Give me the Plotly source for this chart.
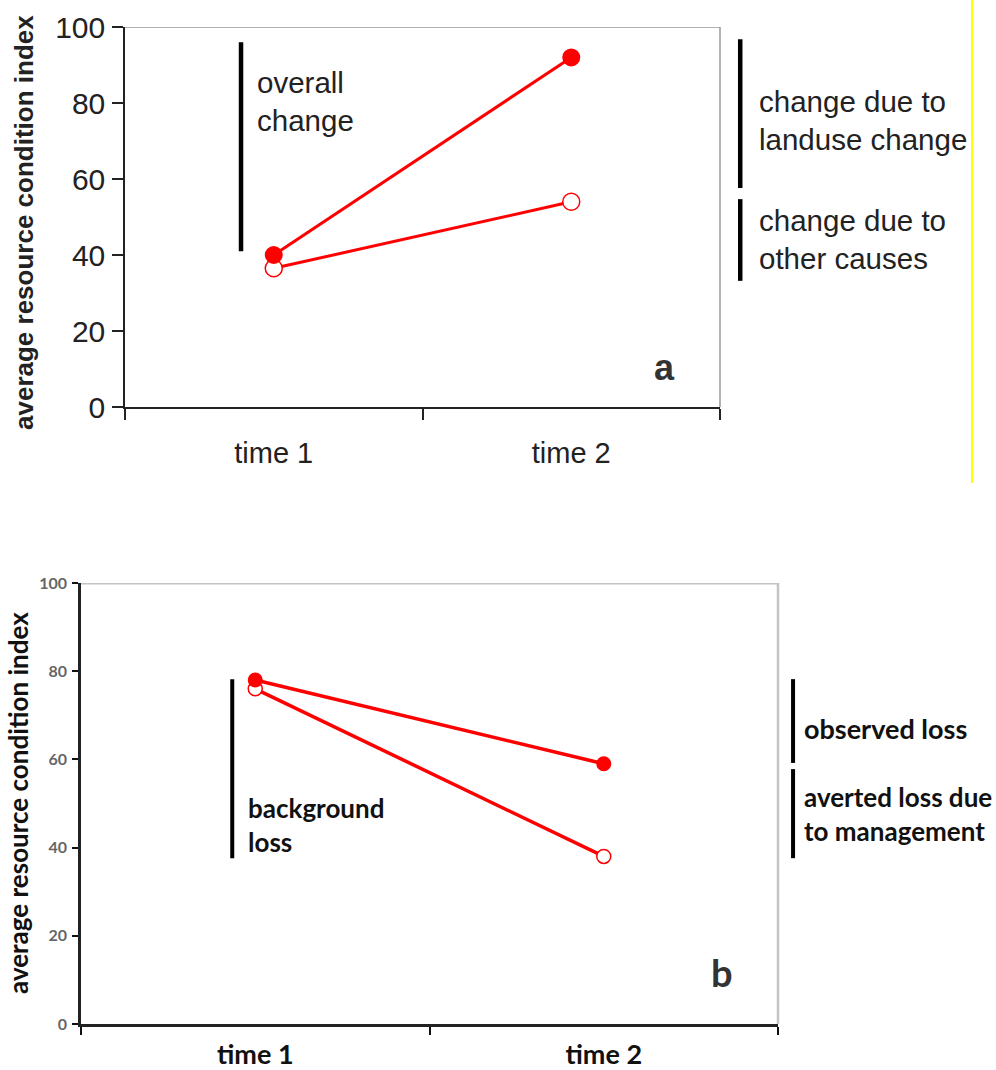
import plotly.graph_objects as go

# ---- data ----
categories = ["time 1", "time 2"]
a_filled = [40, 92]
a_open = [36.5, 54]
b_filled = [78, 59]
b_open = [76, 38]
y_ticks = [0, 20, 40, 60, 80, 100]
y_title = "average resource condition index"

RED = "#ff0000"
FA = "Liberation Sans, Arial, sans-serif"
FB = "Lato, sans-serif"

fig = go.Figure()

# Panel a
fig.add_trace(go.Scatter(x=categories, y=a_open, mode="lines+markers", xaxis="x", yaxis="y",
                         line=dict(color=RED, width=3),
                         marker=dict(symbol="circle", size=17, color="white", line=dict(color=RED, width=1.5)),
                         showlegend=False))
fig.add_trace(go.Scatter(x=categories, y=a_filled, mode="lines+markers", xaxis="x", yaxis="y",
                         line=dict(color=RED, width=3),
                         marker=dict(symbol="circle", size=18, color=RED),
                         showlegend=False))
# Panel b
fig.add_trace(go.Scatter(x=categories, y=b_open, mode="lines+markers", xaxis="x2", yaxis="y2",
                         line=dict(color=RED, width=3.5),
                         marker=dict(symbol="circle", size=14, color="white", line=dict(color=RED, width=1.5)),
                         showlegend=False))
fig.add_trace(go.Scatter(x=categories, y=b_filled, mode="lines+markers", xaxis="x2", yaxis="y2",
                         line=dict(color=RED, width=3.5),
                         marker=dict(symbol="circle", size=15, color=RED),
                         showlegend=False))

xa_dom = [125/996, 720/996]
ya_dom = [1-407/1070, 1-27/1070]
xb_dom = [81/996, 778/996]
yb_dom = [1-1024/1070, 1-583/1070]

fig.update_layout(
    width=996, height=1070,
    margin=dict(l=0, r=0, t=0, b=0, autoexpand=False),
    paper_bgcolor="white", plot_bgcolor="white",
    xaxis=dict(domain=xa_dom, anchor="y", type="category", range=[-0.5, 1.5], automargin=False,
               tickson="boundaries", ticks="outside", ticklen=11, tickwidth=1.5, tickcolor="#222",
               showline=True, linecolor="#222", linewidth=1.5, showgrid=False, zeroline=False,
               tickfont=dict(family=FA, size=29, color="#222"), ticklabelstandoff=19),
    yaxis=dict(domain=ya_dom, anchor="x", range=[0, 100], tickvals=y_ticks, automargin=False,
               ticks="outside", ticklen=11, tickwidth=1.5, tickcolor="#222",
               showline=True, linecolor="#222", linewidth=1.5, showgrid=False, zeroline=False,
               tickfont=dict(family=FA, size=30, color="#222"), ticklabelstandoff=1),
    xaxis2=dict(domain=xb_dom, anchor="y2", type="category", range=[-0.5, 1.5], automargin=False,
                tickson="boundaries", ticks="outside", ticklen=8, tickwidth=2, tickcolor="#111",
                showline=True, linecolor="#222", linewidth=2.5, showgrid=False, zeroline=False,
                tickfont=dict(family=FB, size=27, color="#111", weight="bold"), ticklabelstandoff=5),
    yaxis2=dict(domain=yb_dom, anchor="x2", range=[0, 100], tickvals=y_ticks, automargin=False,
                ticks="outside", ticklen=6, tickwidth=2, tickcolor="#111",
                showline=True, linecolor="#222", linewidth=2.5, showgrid=False, zeroline=False,
                tickfont=dict(family=FB, size=16, color="#666", weight="bold"), ticklabelstandoff=2),
)

shapes = []
# frame (top/right) borders
shapes.append(dict(type="line", xref="x domain", yref="y", x0=0, x1=1, y0=100, y1=100,
                   line=dict(color="#999", width=1.5), layer="below"))
shapes.append(dict(type="line", xref="x domain", yref="y", x0=1, x1=1, y0=0, y1=100,
                   line=dict(color="#999", width=1.5), layer="below"))
shapes.append(dict(type="line", xref="x2 domain", yref="y2", x0=0, x1=1, y0=100, y1=100,
                   line=dict(color="#c4c4c4", width=3), layer="below"))
shapes.append(dict(type="line", xref="x2 domain", yref="y2", x0=1, x1=1, y0=0, y1=100,
                   line=dict(color="#c4c4c4", width=2.5), layer="below"))

# black brackets
a_bars = [(0.195, 41, 96), (1.034, 57.6, 96.8), (1.034, 33.2, 54.7)]
for x, y0, y1 in a_bars:
    shapes.append(dict(type="line", xref="x domain", yref="y", x0=x, x1=x, y0=y0, y1=y1,
                       line=dict(color="black", width=4.5)))
b_bars = [(0.217, 37.6, 78.2), (1.0216, 59.2, 78.2), (1.0216, 37.6, 57.8)]
for x, y0, y1 in b_bars:
    shapes.append(dict(type="line", xref="x2 domain", yref="y2", x0=x, x1=x, y0=y0, y1=y1,
                       line=dict(color="black", width=4)))

# yellow line at right edge
shapes.append(dict(type="line", xref="paper", yref="paper", x0=972/996, x1=972/996,
                   y0=1-483/1070, y1=1, line=dict(color="#ffff00", width=2)))
fig.update_layout(shapes=shapes)

ann = []
def A(text, xref, yref, x, y, font, xanchor="left", angle=0):
    ann.append(dict(text=text, xref=xref, yref=yref, x=x, y=y, showarrow=False,
                    xanchor=xanchor, yanchor="middle", align="left", font=font, textangle=angle))

# axis titles
A(y_title, "paper", "paper", 24/996, 1-223/1070,
  dict(family=FA, size=26, color="#222", weight="bold"), xanchor="center", angle=-90)
A(y_title, "paper", "paper", 18/996, 1-803/1070,
  dict(family=FB, size=26, color="#111", weight="bold"), xanchor="center", angle=-90)

fa = dict(family=FA, size=29.5, color="#222")
A("overall<br>change", "x domain", "y", 0.2185, 80.4, fa)
A("change due to<br>landuse change", "x domain", "y", 1.062, 75.4, fa)
A("change due to<br>other causes", "x domain", "y", 1.062, 44.2, fa)
A("a", "x domain", "y", 0.906, 10.5, dict(family=FA, size=36, color="#333", weight="bold"), xanchor="center")

fb = dict(family=FB, size=26, color="#111", weight="bold")
A("background<br>loss", "x2 domain", "y2", 0.237, 45.1, fb)
A("observed loss", "x2 domain", "y2", 1.034, 67.1, dict(fb, size=27))
A("averted loss due<br>to management", "x2 domain", "y2", 1.034, 47.7, fb)
A("b", "x2 domain", "y2", 0.92, 11.8, dict(family=FB, size=38, color="#333", weight="bold"), xanchor="center")
fig.update_layout(annotations=ann)

fig.write_html("out.html")
